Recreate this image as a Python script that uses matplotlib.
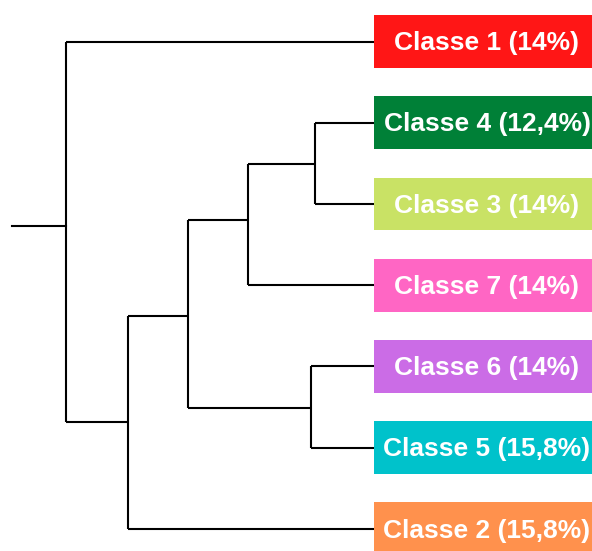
import matplotlib
matplotlib.use("Agg")
import matplotlib.pyplot as plt
from matplotlib.patches import Rectangle

plt.rcParams['font.family'] = ['Liberation Sans', 'DejaVu Sans']

# leaves, top to bottom
leaf_names = ["Classe 1", "Classe 4", "Classe 3", "Classe 7", "Classe 6", "Classe 5", "Classe 2"]
leaf_pct = ["14%", "12,4%", "14%", "14%", "14%", "15,8%", "15,8%"]
leaf_colors = ["#FF1616", "#008037", "#C9E265", "#FF66C4", "#CB6CE6", "#00C2CB", "#FF914D"]

# internal nodes: (left child, right child, height, vertical position)
# leaves are 0..6, new nodes numbered from 7 on
node_children = [(1, 2), (7, 3), (4, 5), (8, 9), (10, 6), (0, 11)]
node_height = [0.59, 1.26, 0.63, 1.86, 2.46, 3.08]
node_ypos = [1.51, 2.20, 4.51, 3.38, 4.68, 2.27]
root_stub = 3.62


def node_xy(i):
    if i < len(leaf_names):
        return 0.0, float(i)
    k = i - len(leaf_names)
    return node_height[k], node_ypos[k]


fig = plt.figure(figsize=(5.92, 5.51), dpi=100)
ax = fig.add_axes([0, 0, 1, 1])
ax.set_xlim(3.74, -2.18)
ax.set_ylim(6.271, -0.511)
ax.axis('off')

lw = 1.5
for k, (a, b) in enumerate(node_children):
    h, y = node_height[k], node_ypos[k]
    ha, ya = node_xy(a)
    hb, yb = node_xy(b)
    ax.plot([h, h], [ya, yb], color='black', lw=lw, solid_capstyle='butt')
    ax.plot([h, ha], [ya, ya], color='black', lw=lw, solid_capstyle='butt')
    ax.plot([h, hb], [yb, yb], color='black', lw=lw, solid_capstyle='butt')

# stub to the root
rh, ry = node_xy(len(leaf_names) + len(node_children) - 1)
ax.plot([root_stub, rh], [ry, ry], color='black', lw=lw)

# coloured label boxes
box_h = 0.652
for i, (name, pct, col) in enumerate(zip(leaf_names, leaf_pct, leaf_colors)):
    ax.add_patch(Rectangle((0.0, i - box_h / 2), -2.3, box_h, facecolor=col,
                           edgecolor='none', zorder=3))
    ax.text(-1.13, i + 0.02, "{} ({})".format(name, pct), color='white', fontsize=19,
            fontweight='bold', ha='center', va='center', zorder=4)

fig.savefig("out.png", dpi=100)
